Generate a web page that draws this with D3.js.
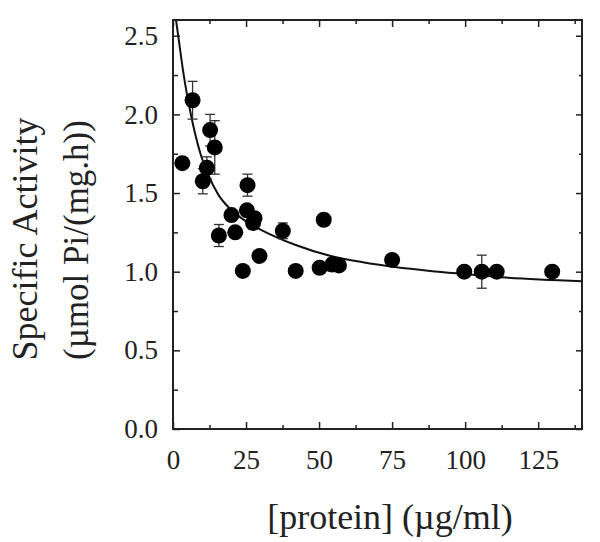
<!DOCTYPE html>
<html>
<head>
<meta charset="utf-8">
<script src="https://cdn.jsdelivr.net/npm/d3@7/dist/d3.min.js"></script>
<style>
  html, body { margin: 0; padding: 0; background: #fff; }
  svg { display: block; }
  text { font-family: "Liberation Serif", "Times New Roman", serif; fill: #222; }
</style>
</head>
<body>
<svg id="chart" width="600" height="542"></svg>
<script>
// ---- data ----
const proteinX    = [3.2, 6.7, 10.2, 11.6, 12.7, 14.3, 15.7, 20.0, 21.3, 23.9, 25.5, 25.3, 27.9, 27.4, 29.6, 37.6, 42.0, 50.2, 51.6, 54.5, 56.8, 75.0, 99.7, 105.7, 110.8, 129.8];
const activityY   = [1.69, 2.09, 1.575, 1.66, 1.90, 1.79, 1.23, 1.36, 1.25, 1.005, 1.55, 1.39, 1.34, 1.31, 1.10, 1.26, 1.005, 1.025, 1.33, 1.045, 1.04, 1.075, 1.0, 1.0, 1.0, 1.0];
const activityErr = [0, 0.12, 0.08, 0.07, 0.10, 0.17, 0.07, 0, 0, 0, 0.07, 0, 0, 0.04, 0, 0.05, 0, 0, 0, 0.04, 0, 0, 0, 0.105, 0, 0];
const fitX = [0, 2, 3.5, 6, 9.4, 12, 15.5, 19.5, 25, 30.8, 42, 54, 65, 76, 88, 100, 114, 140];
const fitY = [2.74, 2.47, 2.27, 2.01, 1.75, 1.62, 1.49, 1.40, 1.32, 1.26, 1.17, 1.10, 1.06, 1.03, 1.005, 0.985, 0.963, 0.94];
const xTicks = [0, 25, 50, 75, 100, 125];
const xMinorTicks = [12.5, 37.5, 62.5, 87.5, 112.5, 137.5];
const yTicks = [0, 0.5, 1.0, 1.5, 2.0, 2.5];
const yMinorTicks = [0.25, 0.75, 1.25, 1.75, 2.25];
const xTitle = "[protein] (\u00b5g/ml)";
const yTitle1 = "Specific Activity";
const yTitle2 = "(\u00b5mol Pi/(mg.h))";

// ---- layout ----
const L = 173, R = 582, T = 20, B = 429;
const svg = d3.select("#chart");
const x = d3.scaleLinear().domain([0, 140]).range([L, R]);
const y = d3.scaleLinear().domain([0, 2.6]).range([B, T]);

svg.append("defs").append("clipPath").attr("id", "plotclip")
  .append("rect").attr("x", L).attr("y", T).attr("width", R - L).attr("height", B - T);

// axes (inward ticks)
function styleAxis(g) {
  g.select(".domain").remove();
  g.selectAll(".tick line").attr("stroke", "#222").attr("stroke-width", 1.5);
  g.selectAll(".tick text").attr("font-size", 27).attr("fill", "#222")
    .attr("font-family", "'Liberation Serif', 'Times New Roman', serif");
}
svg.append("g").attr("transform", `translate(0,${B})`)
  .call(d3.axisBottom(x).tickValues(xTicks).tickSizeInner(-7).tickSizeOuter(0).tickPadding(21).tickFormat(d3.format("d")))
  .call(styleAxis);
svg.append("g").attr("transform", `translate(0,${B})`)
  .call(d3.axisBottom(x).tickValues(xMinorTicks).tickSizeInner(-4).tickSizeOuter(0).tickFormat(""))
  .call(styleAxis);
svg.append("g").attr("transform", `translate(0,${T})`)
  .call(d3.axisTop(x).tickValues(xTicks).tickSizeInner(-7).tickSizeOuter(0).tickFormat(""))
  .call(styleAxis);
svg.append("g").attr("transform", `translate(0,${T})`)
  .call(d3.axisTop(x).tickValues(xMinorTicks).tickSizeInner(-4).tickSizeOuter(0).tickFormat(""))
  .call(styleAxis);
svg.append("g").attr("transform", `translate(${L},0)`)
  .call(d3.axisLeft(y).tickValues(yTicks).tickSizeInner(-7).tickSizeOuter(0).tickPadding(15).tickFormat(d3.format(".1f")))
  .call(styleAxis);
svg.append("g").attr("transform", `translate(${L},0)`)
  .call(d3.axisLeft(y).tickValues(yMinorTicks).tickSizeInner(-5).tickSizeOuter(0).tickFormat(""))
  .call(styleAxis);
svg.append("g").attr("transform", `translate(${R},0)`)
  .call(d3.axisRight(y).tickValues(yTicks).tickSizeInner(-6).tickSizeOuter(0).tickFormat(""))
  .call(styleAxis);
svg.append("g").attr("transform", `translate(${R},0)`)
  .call(d3.axisRight(y).tickValues(yMinorTicks).tickSizeInner(-3).tickSizeOuter(0).tickFormat(""))
  .call(styleAxis);

// fit curve
const fitData = fitX.map((d, i) => ({ x: d, y: fitY[i] }));
svg.append("path").datum(fitData)
  .attr("clip-path", "url(#plotclip)")
  .attr("fill", "none").attr("stroke", "#111").attr("stroke-width", 2)
  .attr("d", d3.line().x(d => x(d.x)).y(d => y(d.y)).curve(d3.curveMonotoneX));

// data
const pts = proteinX.map((d, i) => ({ x: d, y: activityY[i], e: activityErr[i] }));
const eb = svg.append("g").attr("stroke", "#333").attr("stroke-width", 1.3);
pts.filter(d => d.e > 0).forEach(d => {
  const cx = x(d.x), y1 = y(d.y + d.e), y2 = y(d.y - d.e);
  eb.append("line").attr("x1", cx).attr("x2", cx).attr("y1", y1).attr("y2", y2);
  eb.append("line").attr("x1", cx - 5).attr("x2", cx + 5).attr("y1", y1).attr("y2", y1);
  eb.append("line").attr("x1", cx - 5).attr("x2", cx + 5).attr("y1", y2).attr("y2", y2);
});
svg.append("g").selectAll("circle").data(pts).join("circle")
  .attr("cx", d => x(d.x)).attr("cy", d => y(d.y)).attr("r", 8)
  .attr("fill", "#000");

// frame
svg.append("rect").attr("x", L).attr("y", T).attr("width", R - L).attr("height", B - T)
  .attr("fill", "none").attr("stroke", "#222").attr("stroke-width", 2);

// titles
svg.append("text").attr("x", 390).attr("y", 529).attr("text-anchor", "middle")
  .attr("font-size", 36).text(xTitle);
svg.append("text").attr("transform", "translate(37,239) rotate(-90)").attr("text-anchor", "middle")
  .attr("font-size", 36).text(yTitle1);
svg.append("text").attr("transform", "translate(88,240) rotate(-90)").attr("text-anchor", "middle")
  .attr("font-size", 35).text(yTitle2);
</script>
</body>
</html>
